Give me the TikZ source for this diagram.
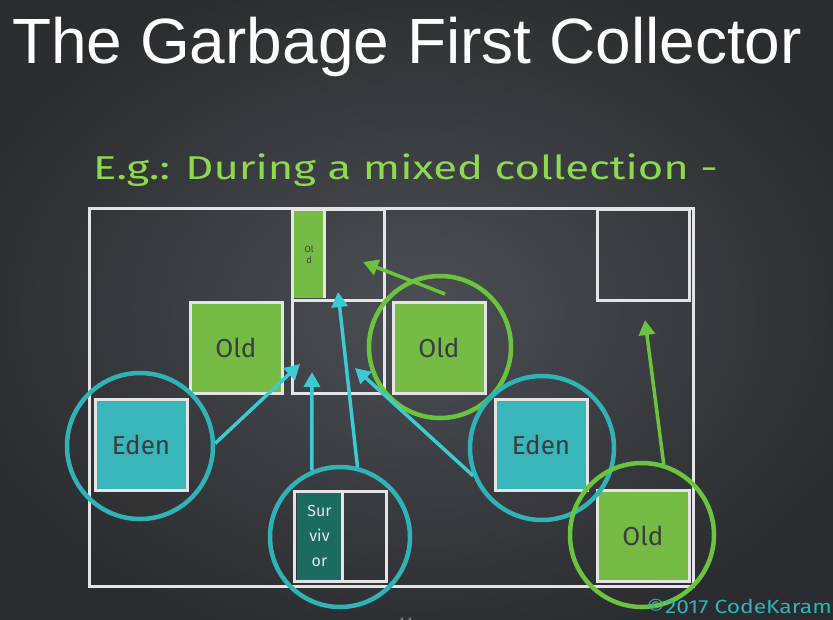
\documentclass[tikz,border=0pt]{standalone}
\usepackage{fontspec}
\usepackage{graphicx}
\setmainfont{Liberation Sans}
\newfontfamily\handfont{Fira Sans}
\usetikzlibrary{arrows.meta}
\definecolor{bgin}{HTML}{4B4E53}
\definecolor{bgout}{HTML}{2A2C2F}
\definecolor{chalkw}{HTML}{E4E4E4}
\definecolor{oldgreen}{HTML}{76BB44}
\definecolor{edenteal}{HTML}{38B6B9}
\definecolor{survteal}{HTML}{1C6B62}
\definecolor{ringteal}{HTML}{2FB3B6}
\definecolor{arrteal}{HTML}{3CCBD4}
\definecolor{ringgreen}{HTML}{6CC43E}
\definecolor{subgreen}{HTML}{8ED94F}
\definecolor{boxtext}{HTML}{3A3D40}
\tikzset{
  chalk/.style={draw=chalkw, line width=3pt},
  regbox/.style={chalk, inner sep=0pt, minimum width=92pt, minimum height=91pt, text=boxtext, font=\handfont\fontsize{26}{28}\selectfont},
  oldbox/.style={regbox, fill=oldgreen},
  edenbox/.style={regbox, fill=edenteal},
  emptybox/.style={regbox},
  ringT/.style={circle, draw=ringteal, line width=4.5pt, inner sep=0pt},
  ringG/.style={circle, draw=ringgreen, line width=4.5pt, inner sep=0pt},
  arrT/.style={draw=arrteal, line width=3.5pt, -{Triangle[width=16pt,length=15pt]}},
  arrG/.style={draw=ringgreen, line width=3.5pt, -{Triangle[width=16pt,length=15pt]}},
}
\begin{document}
\begin{tikzpicture}[x=1pt,y=-1pt]
\useasboundingbox (0,0) rectangle (833,619);
\shade[inner color=bgin, outer color=bgout] (-60,-40) rectangle (893,659);
% title
\node[anchor=base west, inner sep=0pt, text=white, font=\fontsize{64}{70}\selectfont] (title) at (12,63) {The Garbage First Collector};
\node[anchor=base west, inner sep=0pt, text=subgreen, font=\handfont\fontsize{33}{36}\selectfont] (sub) at (93,179) {\scalebox{1.32}[1]{E.g.: During a mixed collection -}};
% heap outline
\draw[chalk] (89,208) rectangle (693,586);
% middle column
\node[emptybox, minimum width=92pt, minimum height=91pt] (midtop) at (338,254.5) {};
\node[draw=none, fill=oldgreen, inner sep=0pt, minimum width=30pt, minimum height=87pt, text=boxtext, align=center, font=\handfont\fontsize{9}{11}\selectfont] (oldthin) at (309,254.5) {Ol\\d};
\draw[chalk] (oldthin.north east) -- (oldthin.south east);
\node[emptybox, minimum height=93pt] (midlow) at (338,346.5) {};
% regions
\node[oldbox] (oldL) at (236,348) {Old};
\node[oldbox] (oldM) at (439,348) {Old};
\node[emptybox] (topR) at (643,254.5) {};
\node[edenbox] (edenL) at (141,445) {Eden};
\node[edenbox] (edenR) at (541,445) {Eden};
\node[emptybox, minimum height=90pt] (surv) at (340,536) {};
\node[draw=none, fill=survteal, inner sep=0pt, minimum width=46pt, minimum height=87pt, text=chalkw, align=center, font=\handfont\fontsize{16}{25}\selectfont] (survtxt) at (319.5,536) {Sur\\viv\\or};
\draw[chalk] (survtxt.north east) -- (survtxt.south east);
\node[oldbox] (oldB) at (643,536) {Old};
% rings
\node[ringT, minimum size=146pt] (c1) at (140,446) {};
\node[ringG, minimum size=142pt] (c2) at (440,347) {};
\node[ringT, minimum size=140pt] (c3) at (340,537) {};
\node[ringT, minimum size=144pt] (c4) at (542,448) {};
\node[ringG, minimum size=144pt] (c5) at (642,535) {};
% arrow targets
\coordinate (t1) at (300,364);
\coordinate (t2) at (312,372);
\coordinate (t3) at (338,292);
\coordinate (t4) at (355,368);
\coordinate (g1s) at (445,294);
\coordinate (g1t) at (363,262);
\coordinate (g2t) at (645,320);
\draw[arrT] (c1.2) -- (t1);
\draw[arrT] (c3.113) -- (t2);
\draw[arrT] (c3.76) -- (t3);
\draw[arrT] (c4.202) -- (t4);
\draw[arrG] (g1s) -- (g1t);
\draw[arrG] (c5.73) -- (g2t);
% footer
\node[anchor=base, inner sep=0pt, text=gray, font=\fontsize{14}{16}\selectfont] (pagenum) at (405,627) {44};
\node[anchor=base east, inner sep=0pt, text=ringteal, font=\handfont\fontsize{19}{21}\selectfont] (copy) at (832,613) {\scalebox{1.2}[1]{©2017 CodeKaram}};
\end{tikzpicture}
\end{document}
